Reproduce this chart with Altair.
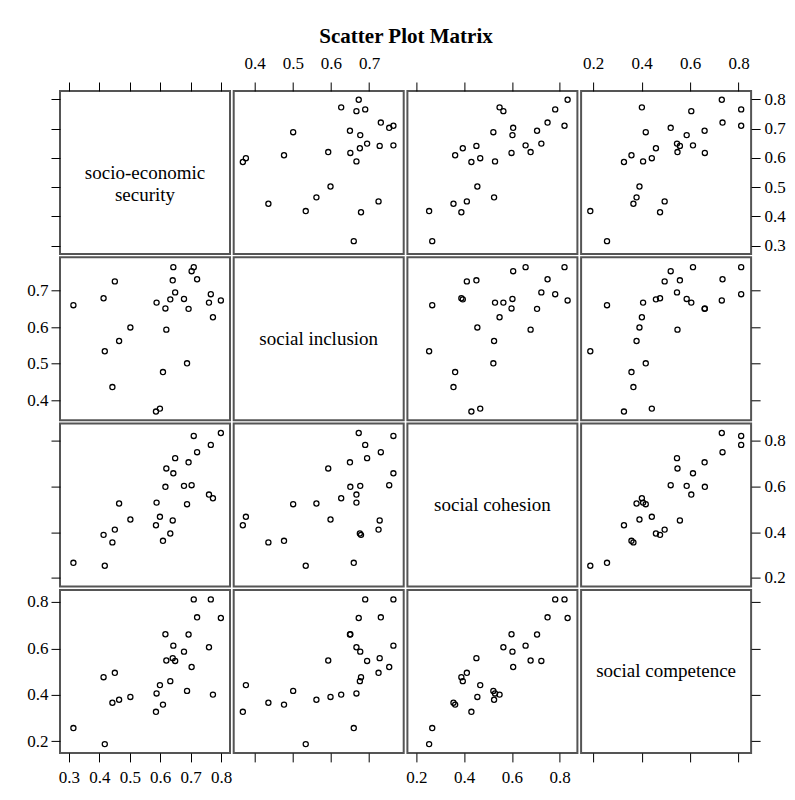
import altair as alt
import pandas as pd

# ---- data ----
ses   = [0.315, 0.414, 0.418, 0.443, 0.451, 0.465, 0.502, 0.586, 0.588, 0.599,
         0.609, 0.617, 0.620, 0.633, 0.641, 0.643, 0.649, 0.678, 0.688, 0.693,
         0.703, 0.710, 0.721, 0.760, 0.766, 0.773, 0.799]
si    = [0.660, 0.679, 0.534, 0.436, 0.725, 0.562, 0.599, 0.369, 0.667, 0.377,
         0.477, 0.651, 0.593, 0.676, 0.728, 0.764, 0.695, 0.677, 0.501, 0.650,
         0.753, 0.764, 0.731, 0.667, 0.690, 0.627, 0.673]
sc    = [0.266, 0.388, 0.253, 0.355, 0.411, 0.525, 0.455, 0.430, 0.529, 0.467,
         0.362, 0.598, 0.678, 0.394, 0.451, 0.657, 0.723, 0.602, 0.522, 0.705,
         0.605, 0.820, 0.749, 0.564, 0.781, 0.548, 0.833]
scomp = [0.257, 0.476, 0.188, 0.366, 0.495, 0.379, 0.391, 0.327, 0.406, 0.442,
         0.358, 0.661, 0.548, 0.459, 0.558, 0.612, 0.546, 0.586, 0.417, 0.660,
         0.520, 0.811, 0.734, 0.605, 0.811, 0.401, 0.731]

var_keys = ["ses", "si", "sc", "scomp"]
var_labels = ["socio-economic\nsecurity", "social inclusion", "social cohesion", "social competence"]
domains = [[0.271, 0.829], [0.345, 0.791], [0.162, 0.874], [0.150, 0.852]]
tick_values = [[0.3, 0.4, 0.5, 0.6, 0.7, 0.8], [0.4, 0.5, 0.6, 0.7],
               [0.2, 0.4, 0.6, 0.8], [0.2, 0.4, 0.6, 0.8]]
title_text = "Scatter Plot Matrix"

df = pd.DataFrame({"ses": ses, "si": si, "sc": sc, "scomp": scomp})

W, H = 170, 163
FONT = "Liberation Serif"
LABEL_SIZE = 17
TICK = 9


def make_axis(orient, values, show_labels):
    pad = {"top": 10, "bottom": 8, "left": 3, "right": 4}[orient]
    return alt.Axis(orient=orient, values=values, labels=show_labels, ticks=True,
                    tickSize=TICK, tickColor="black", tickWidth=1, domain=False,
                    grid=False, title=None, labelFont=FONT, labelFontSize=LABEL_SIZE,
                    labelColor="black", labelPadding=pad, format=".1f",
                    labelFlush=False, labelOverlap=False)


def x_axis(r, c):
    if r == 0:
        return make_axis("top", tick_values[c], c in (1, 3))
    if r == 3:
        return make_axis("bottom", tick_values[c], c in (0, 2))
    return None


def y_axis(r, c):
    if c == 0:
        return make_axis("left", tick_values[r], r in (1, 3))
    if c == 3:
        return make_axis("right", tick_values[r], r in (0, 2))
    return None


def enc_x(r, c):
    ax = x_axis(r, c)
    kw = dict(scale=alt.Scale(domain=domains[c], nice=False, zero=False))
    if ax is None:
        return alt.X(f"{var_keys[c]}:Q", axis=None, **kw)
    return alt.X(f"{var_keys[c]}:Q", axis=ax, **kw)


def enc_y(r, c):
    ax = y_axis(r, c)
    kw = dict(scale=alt.Scale(domain=domains[r], nice=False, zero=False))
    if ax is None:
        return alt.Y(f"{var_keys[r]}:Q", axis=None, **kw)
    return alt.Y(f"{var_keys[r]}:Q", axis=ax, **kw)


panels = []
for r in range(4):
    for c in range(4):
        if r == c:
            label_df = pd.DataFrame({"t": [var_labels[r]]})
            txt = alt.Chart(label_df).mark_text(
                font=FONT, fontSize=19, color="black", lineBreak="\n",
                lineHeight=22, align="center", baseline="middle"
            ).encode(text="t:N", x=alt.value(W / 2), y=alt.value(H / 2))
            if x_axis(r, c) is not None or y_axis(r, c) is not None:
                hidden = alt.Chart(df).mark_point(opacity=0).encode(
                    x=enc_x(r, c), y=enc_y(r, c))
                p = alt.layer(hidden, txt).properties(width=W, height=H)
            else:
                p = txt.properties(width=W, height=H)
        else:
            p = alt.Chart(df).mark_point(
                shape="circle", filled=False, size=26, stroke="black",
                strokeWidth=1.3, opacity=1
            ).encode(x=enc_x(r, c), y=enc_y(r, c)).properties(width=W, height=H)
        panels.append(p)

chart = alt.concat(
    *panels, columns=4, spacing={"row": 3.3, "column": 3.7}, bounds="flush"
).properties(
    title=alt.TitleParams(title_text, font=FONT, fontSize=21, fontWeight="bold",
                          anchor="middle", color="black", offset=6),
    padding={"left": 17, "top": 18, "right": 0, "bottom": 0},
).configure(background="white").configure_view(stroke="#555555", strokeWidth=2)

chart.save("out.html", embed_options={"renderer": "svg", "actions": False})
